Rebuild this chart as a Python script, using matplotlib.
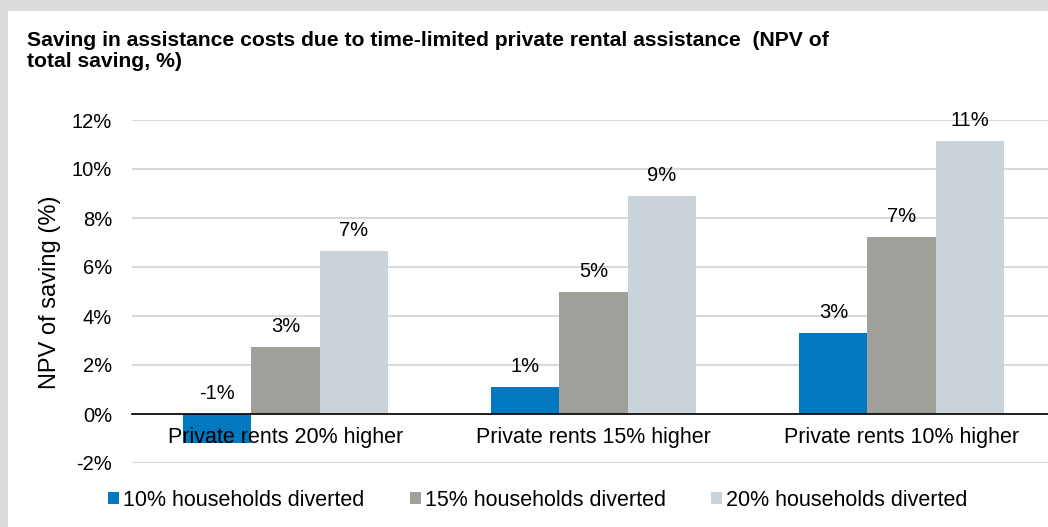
import matplotlib.pyplot as plt
import numpy as np
from matplotlib.patches import Rectangle
from matplotlib.ticker import FuncFormatter

plt.rcParams['font.family'] = ['Liberation Sans', 'DejaVu Sans']

BLUE = "#0079C1"
GRAY = "#A09F99"
LIGHT = "#CBD3DA"
GRID_COLOR = "#D9D9D9"
BORDER_COLOR = "#DCDCDC"

categories = ["Private rents 20% higher", "Private rents 15% higher", "Private rents 10% higher"]
series_names = ["10% households diverted", "15% households diverted", "20% households diverted"]
div_10 = [-1.18, 1.1, 3.32]
div_15 = [2.73, 4.98, 7.22]
div_20 = [6.65, 8.9, 11.13]

W, H = 1048, 527
fig = plt.figure(figsize=(W / 100, H / 100), dpi=100, facecolor='white')

# grey frame on top and left
fig.patches.append(Rectangle((0, 1 - 11 / H), 1, 11 / H, transform=fig.transFigure,
                             facecolor=BORDER_COLOR, edgecolor='none', zorder=0))
fig.patches.append(Rectangle((0, 0), 8 / W, 1, transform=fig.transFigure,
                             facecolor=BORDER_COLOR, edgecolor='none', zorder=0))

ax = fig.add_axes([131.5 / W, 1 - 463 / H, 924 / W, 343 / H])

x = np.arange(len(categories))
width = 0.221
series = [div_10, div_15, div_20]
colors = [BLUE, GRAY, LIGHT]
for i, (vals, col, name) in enumerate(zip(series, colors, series_names)):
    pos = x + (i - 1) * width
    ax.bar(pos, vals, width, color=col, label=name, zorder=2)
    for px, v in zip(pos, vals):
        ax.annotate(f"{round(v):.0f}%", (px, max(v, 0)), xytext=(0, 8),
                    textcoords='offset points', ha='center', va='bottom', fontsize=14.5)

ax.set_xlim(-0.5, 2.5)
ax.set_ylim(-2, 12)
ax.set_yticks(np.arange(-2, 13, 2))
ax.yaxis.set_major_formatter(FuncFormatter(lambda v, p: f"{v:.0f}%"))
ax.set_xticks(x)
ax.set_xticklabels(categories)
ax.tick_params(axis='y', length=0, pad=14, labelsize=14.5)
ax.tick_params(axis='x', length=0, pad=9, labelsize=15.5)

for s in ['top', 'right', 'left']:
    ax.spines[s].set_visible(False)
ax.spines['bottom'].set_position(('data', 0))
ax.spines['bottom'].set_color('black')
ax.spines['bottom'].set_linewidth(1.2)
ax.spines['bottom'].set_zorder(3)

ax.grid(axis='y', color=GRID_COLOR, linewidth=1.5)
ax.set_axisbelow(True)
# category labels sit on top of the negative bar
ax.xaxis.set_zorder(4)

fig.text(50 / W, 1 - 292 / H, "NPV of saving (%)", rotation=90, ha='center', va='center', fontsize=17)

fig.text(27 / W, 1 - 31 / H,
         "Saving in assistance costs due to time-limited private rental assistance  (NPV of\ntotal saving, %)",
         ha='left', va='top', fontsize=15.2, fontweight='bold', linespacing=1.15)

fig.legend(loc='center', bbox_to_anchor=(538 / W, 1 - 500 / H), ncol=3, frameon=False,
           fontsize=15.5, handlelength=0.5, handleheight=0.5, handletextpad=0.2, columnspacing=2.1)

fig.savefig("out.png", dpi=100, facecolor='white')
